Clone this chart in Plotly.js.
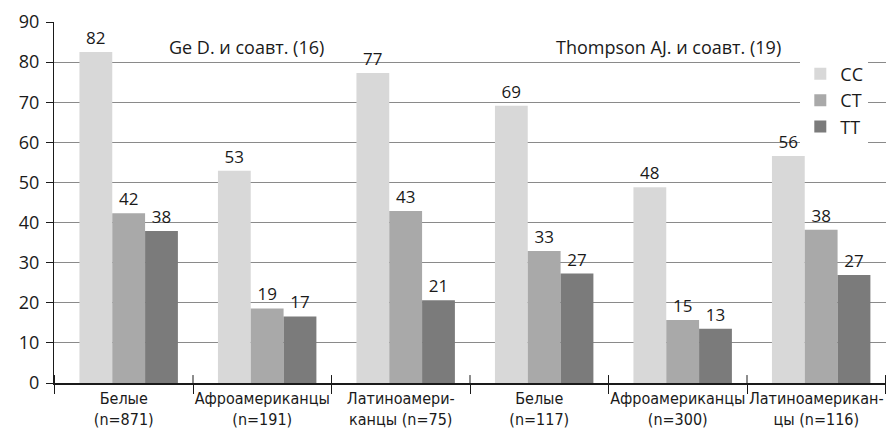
<!DOCTYPE html>
<html>
<head>
<meta charset="utf-8">
<script src="https://cdn.plot.ly/plotly-3.0.1.min.js"></script>
<style>html,body{margin:0;padding:0;background:#fff;}#chart{width:893px;height:429px;}</style>
</head>
<body>
<div id="chart"></div>
<script>
// Data
var categories = [
  "Белые<br>(n=871)",
  "Афроамериканцы<br>(n=191)",
  "Латиноамери-<br>канцы (n=75)",
  "Белые<br>(n=117)",
  "Афроамериканцы<br>(n=300)",
  "Латиноамерикан-<br>цы (n=116)"
];
var ccValues = [82.5, 52.9, 77.3, 69.1, 48.8, 56.6];
var ctValues = [42.3, 18.6, 42.9, 32.9, 15.7, 38.2];
var ttValues = [37.9, 16.6, 20.6, 27.3, 13.5, 26.9];
var ccLabels = ["82", "53", "77", "69", "48", "56"];
var ctLabels = ["42", "19", "43", "33", "15", "38"];
var ttLabels = ["38", "17", "21", "27", "13", "27"];
var seriesNames = ["CC", "CT", "TT"];
var studyLabels = ["Ge D. и соавт. (16)", "Thompson AJ. и соавт. (19)"];

var colors = ["#d8d8d8", "#a9a9a9", "#7b7b7b"];
var barOffsets = [-0.32, -0.083, 0.154];
var barWidth = 0.237;
var mainFamily = "Open Sans, Noto Sans, sans-serif";
var numFont = {family: mainFamily, size: 17, color: "#1a1a1a"};

function barTrace(name, vals, labels, color, off) {
  return {
    type: "bar", name: name, x: categories, y: vals,
    offset: off, width: barWidth,
    text: labels, textposition: "outside", texttemplate: "%{text}",
    textfont: numFont, cliponaxis: false,
    marker: {color: color, line: {width: 0}},
    hoverinfo: "skip"
  };
}

var data = [
  barTrace(seriesNames[0], ccValues, ccLabels, colors[0], barOffsets[0]),
  barTrace(seriesNames[1], ctValues, ctLabels, colors[1], barOffsets[1]),
  barTrace(seriesNames[2], ttValues, ttLabels, colors[2], barOffsets[2])
];

// boundary ticks crossing the x axis
var shapes = [];
for (var i = 0; i <= categories.length; i++) {
  shapes.push({type: "line", xref: "x", yref: "paper", x0: i - 0.5, x1: i - 0.5,
    y0: 0, y1: 0.022, line: {color: "#1a1a1a", width: 1}});
}

var layout = {
  width: 893, height: 429,
  margin: {l: 54, r: 7, t: 22, b: 46},
  paper_bgcolor: "#fff", plot_bgcolor: "#fff",
  barmode: "group", bargap: 0.28, bargroupgap: 0,
  showlegend: true,
  legend: {x: 0.897, y: 0.907, xanchor: "left", yanchor: "top",
    bgcolor: "#fff", font: {family: mainFamily, size: 18, color: "#1a1a1a"},
    tracegroupgap: 0, itemwidth: 30},
  xaxis: {
    type: "category", showline: true, linecolor: "#1a1a1a", linewidth: 1.5,
    tickson: "boundaries", ticks: "outside", ticklen: 9, tickcolor: "#1a1a1a",
    tickangle: 0, automargin: false,
    tickfont: {family: "Liberation Sans Narrow, DejaVu Sans Condensed, Roboto Condensed, sans-serif", size: 16, color: "#1a1a1a"},
    showgrid: false, zeroline: false, fixedrange: true
  },
  yaxis: {
    range: [0, 90], dtick: 10, showline: true, linecolor: "#1a1a1a", linewidth: 1,
    ticks: "outside", ticklen: 7, tickcolor: "#1a1a1a", ticklabelstandoff: 3,
    tickfont: {family: mainFamily, size: 18, color: "#1a1a1a"},
    showgrid: true, gridcolor: "#8a8a8a", gridwidth: 1, zeroline: false, fixedrange: true
  },
  shapes: shapes,
  annotations: [
    {text: studyLabels[0], xref: "paper", yref: "y", x: 0.231, y: 83.8, xanchor: "center", yanchor: "middle", showarrow: false,
     font: {family: mainFamily, size: 18, color: "#1a1a1a"}},
    {text: studyLabels[1], xref: "paper", yref: "y", x: 0.739, y: 83.8, xanchor: "center", yanchor: "middle", showarrow: false,
     font: {family: mainFamily, size: 18, color: "#1a1a1a"}}
  ]
};

Plotly.newPlot("chart", data, layout, {displayModeBar: false, staticPlot: true});
</script>
</body>
</html>
